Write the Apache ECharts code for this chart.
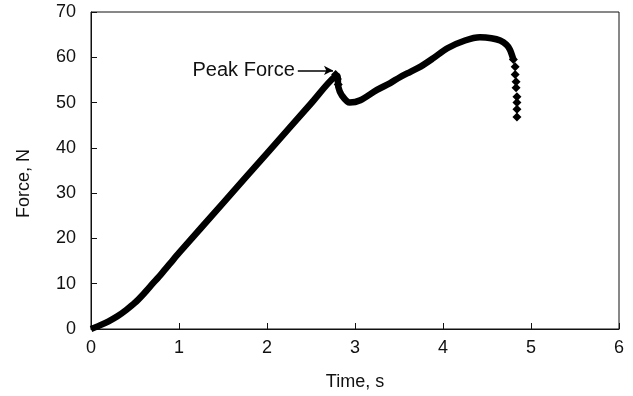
<!DOCTYPE html>
<html>
<head>
<meta charset="utf-8">
<script src="https://cdn.jsdelivr.net/npm/echarts@6/dist/echarts.min.js"></script>
<style>
  html, body { margin: 0; padding: 0; background: #fff; }
  #chart { width: 633px; height: 396px; }
</style>
</head>
<body>
<div id="chart"></div>
<script>
// force curve (time in s, force in N)
const time  = [0, 0.1, 0.2, 0.3, 0.4, 0.5, 0.6, 0.7, 0.8, 0.9, 1.0, 1.5, 2.0, 2.5, 2.77, 2.80, 2.81, 2.85, 2.94, 3.06, 3.25, 3.40, 3.51, 3.63, 3.75, 3.89, 4.05, 4.25, 4.42, 4.55, 4.65, 4.72, 4.76, 4.80];
const force = [0, 0.8, 1.7, 2.8, 4.2, 5.8, 7.8, 10.0, 12.2, 14.5, 16.8, 27.8, 38.8, 49.8, 55.7, 55.8, 53.5, 51.6, 50.0, 50.5, 52.8, 54.3, 55.6, 56.8, 58.0, 59.8, 62.0, 63.7, 64.4, 64.2, 63.7, 62.8, 61.7, 59.5];
// the individual diamonds visible at the peak and at the final drop
const dropTime  = [2.78, 2.80, 2.81, 4.80, 4.82, 4.82, 4.83, 4.83, 4.84, 4.84, 4.84, 4.84];
const dropForce = [56.2, 55.2, 54.0, 59.5, 57.9, 56.2, 54.6, 53.3, 51.3, 50.0, 48.5, 46.8];
const xTicks = [0, 1, 2, 3, 4, 5, 6];
const yTicks = [0, 10, 20, 30, 40, 50, 60, 70];
const peakArrow = [[2.35, 57.1], [2.75, 57.1]];

const font = '"Liberation Sans", Arial, sans-serif';
const chart = echarts.init(document.getElementById('chart'));
chart.setOption({
    animation: false,
    grid: {
        left: 91, right: 14, top: 12, bottom: 65,
        show: true, borderColor: '#111', borderWidth: 1
    },
    xAxis: {
        type: 'value',
        min: xTicks[0], max: xTicks[xTicks.length - 1], interval: 1,
        name: 'Time, s', nameLocation: 'middle', nameGap: 44,
        nameTextStyle: { fontFamily: font, fontSize: 18, color: '#111' },
        axisLine: { lineStyle: { color: '#111', width: 1 } },
        axisTick: { inside: true, length: 6, lineStyle: { color: '#111' } },
        axisLabel: { margin: 10, fontFamily: font, fontSize: 18, color: '#111' },
        splitLine: { show: false }
    },
    yAxis: {
        type: 'value',
        min: yTicks[0], max: yTicks[yTicks.length - 1], interval: 10,
        name: 'Force, N', nameLocation: 'middle', nameGap: 58, nameRotate: 90,
        nameTextStyle: { fontFamily: font, fontSize: 18, color: '#111', padding: [0, 26, 0, 0] },
        axisLine: { show: true, lineStyle: { color: '#111', width: 1 } },
        axisTick: { show: true, inside: true, length: 6, lineStyle: { color: '#111' } },
        axisLabel: { margin: 15, fontFamily: font, fontSize: 18, color: '#111' },
        splitLine: { show: false }
    },
    series: [{
        type: 'line',
        data: time.map((t, i) => [t, force[i]]),
        showSymbol: false,
        smooth: 0.3,
        lineStyle: { color: '#000', width: 6.5 },
        markLine: {
            silent: true,
            symbol: ['none', 'arrow'],
            symbolSize: [7, 9],
            lineStyle: { color: '#000', width: 1.5, type: 'solid' },
            label: {
                show: true, position: 'start', distance: 3,
                formatter: 'Peak Force',
                fontFamily: font, fontSize: 20, color: '#111'
            },
            data: [[{ coord: peakArrow[0] }, { coord: peakArrow[1] }]]
        }
    }, {
        type: 'scatter',
        data: dropTime.map((t, i) => [t, dropForce[i]]),
        symbol: 'diamond',
        symbolSize: 9,
        itemStyle: { color: '#000', opacity: 1 }
    }]
});
</script>
</body>
</html>
